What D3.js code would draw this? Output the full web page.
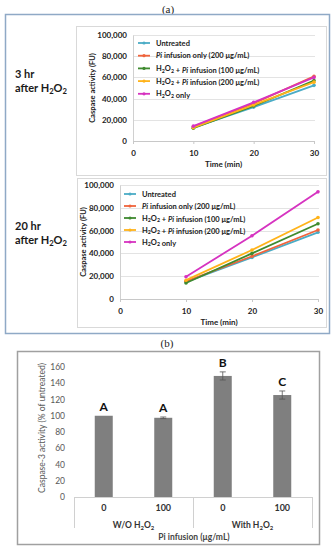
<!DOCTYPE html>
<html><head><meta charset="utf-8">
<script src="https://cdn.jsdelivr.net/npm/d3@7"></script>
<style>body{margin:0;background:#fff}svg{display:block}</style>
</head><body>
<svg id="c" width="336" height="550"></svg>
<script>
// ---- Data ----
const times = [10, 20, 30];
const seriesNames = ["Untreated", "Pi infusion only (200 μg/mL)", "H2O2 + Pi infusion (100 μg/mL)", "H2O2 + Pi infusion (200 μg/mL)", "H2O2 only"];
const seriesColors = ["#4bacc6", "#f0643c", "#3f8a2f", "#ffb31a", "#d633c0"];
// 3 hr after H2O2
const untreated3 = [12500, 32000, 52500];
const piOnly3 = [13500, 35500, 61000];
const h2o2Pi100_3 = [12000, 33000, 57000];
const h2o2Pi200_3 = [12500, 34000, 55500];
const h2o2Only3 = [14000, 36500, 60000];
// 20 hr after H2O2
const untreated20 = [15000, 36500, 58500];
const piOnly20 = [15500, 37500, 60500];
const h2o2Pi100_20 = [14000, 40000, 66000];
const h2o2Pi200_20 = [16500, 43000, 71500];
const h2o2Only20 = [19500, 55500, 94000];
const yTicksLine = [0, 20000, 40000, 60000, 80000, 100000];
const xTicksLine = [0, 10, 20, 30];
// (b) bars
const barCats = ["0", "100", "0", "100"];
const barGroups = ["W/O H2O2", "With H2O2"];
const barValues = [100, 97.5, 149, 125.5];
const barErrors = [0, 1, 5, 5];
const barLetters = ["A", "A", "B", "C"];
const yTicksBar = [0, 20, 40, 60, 80, 100, 120, 140, 160];

const svg = d3.select("#c");
const F = "Lato, 'Open Sans', sans-serif";

// helper: text with H2O2 subscripts and italic Pi
function richText(sel, str, size) {
  const parts = str.split(/(H2O2|Pi(?= infusion))/);
  parts.forEach(p => {
    if (p === "H2O2") {
      sel.append("tspan").text("H");
      sel.append("tspan").attr("font-size", size * 0.7).attr("dy", size * 0.2).text("2");
      sel.append("tspan").attr("dy", -size * 0.2).text("O");
      sel.append("tspan").attr("font-size", size * 0.7).attr("dy", size * 0.2).text("2");
      sel.append("tspan").attr("dy", -size * 0.2).text("");
    } else if (p === "Pi") {
      sel.append("tspan").attr("font-style", "italic").text("Pi");
    } else if (p.length) {
      sel.append("tspan").text(p);
    }
  });
}

// ---- (a) ----
svg.append("text").attr("x", 168).attr("y", 13).attr("text-anchor", "middle")
  .attr("font-family", "'Liberation Serif', serif").attr("font-size", 11).attr("fill", "#222").text("(a)");
svg.append("rect").attr("x", 5.5).attr("y", 14.5).attr("width", 324).attr("height", 319)
  .attr("fill", "none").attr("stroke", "#8fa9c6").attr("stroke-width", 1.5);

const panels = [
  { data: [untreated3, piOnly3, h2o2Pi100_3, h2o2Pi200_3, h2o2Only3], frame: [76, 26, 326, 175],
    xr: [133, 314], yr: [141, 35], legX: 138, legY: 43, legDy: 12.7, side: ["3 hr", 74, 88], titleX: 92 },
  { data: [untreated20, piOnly20, h2o2Pi100_20, h2o2Pi200_20, h2o2Only20], frame: [77, 178, 326, 327],
    xr: [120, 318], yr: [299, 185], legX: 124, legY: 194, legDy: 12, side: ["20 hr", 226, 240], titleX: 83 }
];

panels.forEach(p => {
  const g = svg.append("g");
  g.append("rect").attr("x", p.frame[0] + 0.5).attr("y", p.frame[1] + 0.5)
    .attr("width", p.frame[2] - p.frame[0]).attr("height", p.frame[3] - p.frame[1])
    .attr("fill", "#fff").attr("stroke", "#d9d9d9");
  const x = d3.scaleLinear().domain([0, 30]).range(p.xr);
  const y = d3.scaleLinear().domain([0, 100000]).range(p.yr);
  // gridlines
  g.append("g").selectAll("line").data(yTicksLine.slice(1)).join("line")
    .attr("x1", p.xr[0]).attr("x2", p.xr[1] + 1)
    .attr("y1", d => Math.round(y(d)) + 0.5).attr("y2", d => Math.round(y(d)) + 0.5)
    .attr("stroke", "#e3e3e3");
  // y axis
  const ya = g.append("g").attr("transform", `translate(${p.xr[0]},0)`)
    .call(d3.axisLeft(y).tickValues(yTicksLine).tickFormat(d3.format(",")).tickSize(0).tickPadding(6));
  ya.select(".domain").attr("stroke", "#d0d0d0");
  ya.selectAll("text").attr("font-family", F).attr("font-weight", "bold").attr("font-size", 8).attr("fill", "#222");
  // x axis
  const xa = g.append("g").attr("transform", `translate(0,${p.yr[0]})`)
    .call(d3.axisBottom(x).tickValues(xTicksLine).tickSize(3).tickPadding(6));
  xa.select(".domain").attr("stroke", "#c8c8c8");
  xa.selectAll("line").attr("stroke", "#c8c8c8");
  xa.selectAll("text").attr("font-family", F).attr("font-weight", "bold").attr("font-size", 8).attr("fill", "#222");
  g.append("text").attr("x", (p.xr[0] + p.xr[1]) / 2).attr("y", p.yr[0] + 26).attr("text-anchor", "middle")
    .attr("font-family", F).attr("font-weight", "bold").attr("font-size", 8).attr("fill", "#222").text("Time (min)");
  g.append("text").attr("transform", `translate(${p.titleX},${(p.yr[0] + p.yr[1]) / 2}) rotate(-90)`)
    .attr("text-anchor", "middle").attr("dy", "0.35em")
    .attr("font-family", F).attr("font-weight", "bold").attr("font-size", 7.5).attr("fill", "#222")
    .text("Caspase activity (FU)");
  // lines
  const line = d3.line().x((d, i) => x(times[i])).y(d => y(d));
  p.data.forEach((s, k) => {
    g.append("path").datum(s).attr("d", line).attr("fill", "none")
      .attr("stroke", seriesColors[k]).attr("stroke-width", 1.8);
    g.append("g").selectAll("circle").data(s).join("circle")
      .attr("cx", (d, i) => x(times[i])).attr("cy", d => y(d)).attr("r", 1.8).attr("fill", seriesColors[k]);
  });
  // legend
  seriesNames.forEach((n, k) => {
    const ly = p.legY + k * p.legDy;
    g.append("line").attr("x1", p.legX).attr("x2", p.legX + 12).attr("y1", ly).attr("y2", ly)
      .attr("stroke", seriesColors[k]).attr("stroke-width", 1.8);
    g.append("circle").attr("cx", p.legX + 6).attr("cy", ly).attr("r", 1.6).attr("fill", seriesColors[k]);
    const t = g.append("text").attr("x", p.legX + 18).attr("y", ly).attr("dy", "0.35em")
      .attr("font-family", F).attr("font-weight", "bold").attr("font-size", 7.5).attr("fill", "#222");
    richText(t, n, 7.5);
  });
  // side label
  svg.append("text").attr("x", 15).attr("y", p.side[1]).attr("dy", "0.35em")
    .attr("font-family", F).attr("font-weight", "bold").attr("font-size", 11).attr("fill", "#1a1a1a").text(p.side[0]);
  const t2 = svg.append("text").attr("x", 15).attr("y", p.side[2]).attr("dy", "0.35em")
    .attr("font-family", F).attr("font-weight", "bold").attr("font-size", 11).attr("fill", "#1a1a1a");
  t2.append("tspan").text("after ");
  richText(t2, "H2O2", 11);
});

// ---- (b) ----
svg.append("text").attr("x", 167).attr("y", 347).attr("text-anchor", "middle")
  .attr("font-family", "'Liberation Serif', serif").attr("font-size", 11).attr("fill", "#222").text("(b)");
svg.append("rect").attr("x", 17.5).attr("y", 351.5).attr("width", 302).attr("height", 193)
  .attr("fill", "none").attr("stroke", "#a0a0a0").attr("stroke-width", 1.5);

const bx = d3.scaleBand().domain(d3.range(barCats.length)).range([74, 312]);
const by = d3.scaleLinear().domain([0, 160]).range([497, 367]);
const bw = 18;
const gb = svg.append("g");
const yab = gb.append("g").attr("transform", "translate(70,0)")
  .call(d3.axisLeft(by).tickValues(yTicksBar).tickSize(0).tickPadding(5));
yab.select(".domain").remove();
yab.selectAll("text").attr("font-family", F).attr("font-size", 8.5).attr("fill", "#595959");
gb.append("text").attr("transform", "translate(42,428) rotate(-90)").attr("text-anchor", "middle").attr("dy", "0.35em")
  .attr("font-family", F).attr("font-size", 8.5).attr("fill", "#595959").text("Caspase-3 activity (% of untreated)");

gb.selectAll("rect.bar").data(barValues).join("rect").attr("class", "bar")
  .attr("x", (d, i) => bx(i) + bx.bandwidth() / 2 - bw / 2).attr("width", bw)
  .attr("y", d => by(d)).attr("height", d => by(0) - by(d)).attr("fill", "#7f7f7f");
// error bars
barValues.forEach((v, i) => {
  if (!barErrors[i]) return;
  const cx = bx(i) + bx.bandwidth() / 2;
  gb.append("line").attr("x1", cx).attr("x2", cx).attr("y1", by(v + barErrors[i])).attr("y2", by(v - barErrors[i]))
    .attr("stroke", "#555").attr("stroke-width", 0.8);
  [v + barErrors[i], v - barErrors[i]].forEach(e => {
    gb.append("line").attr("x1", cx - 3).attr("x2", cx + 3).attr("y1", by(e)).attr("y2", by(e))
      .attr("stroke", "#555").attr("stroke-width", 0.8);
  });
});
// letters
barLetters.forEach((l, i) => {
  gb.append("text").attr("x", bx(i) + bx.bandwidth() / 2).attr("y", by(barValues[i] + barErrors[i]) - 5)
    .attr("text-anchor", "middle").attr("font-family", F).attr("font-weight", "bold").attr("font-size", 12)
    .attr("fill", "#111").text(l);
});
// axis line and separators
gb.append("line").attr("x1", 74).attr("x2", 312).attr("y1", 497.5).attr("y2", 497.5).attr("stroke", "#d0d0d0");
[0, 2, 4].forEach(k => {
  const xx = k < 4 ? bx(k) : bx.range()[1];
  gb.append("line").attr("x1", xx + 0.5).attr("x2", xx + 0.5).attr("y1", 497).attr("y2", 528).attr("stroke", "#d0d0d0");
});
barCats.forEach((c, i) => {
  gb.append("text").attr("x", bx(i) + bx.bandwidth() / 2).attr("y", 508).attr("dy", "0.35em").attr("text-anchor", "middle")
    .attr("font-family", F).attr("font-weight", "bold").attr("font-size", 9).attr("fill", "#333").text(c);
});
barGroups.forEach((gname, j) => {
  const cx = (bx(j * 2) + bx(j * 2 + 1) + bx.bandwidth()) / 2;
  const t = gb.append("text").attr("x", cx).attr("y", 525).attr("dy", "0.35em").attr("text-anchor", "middle")
    .attr("font-family", F).attr("font-weight", "bold").attr("font-size", 8.5).attr("fill", "#333");
  richText(t, gname, 8.5);
});
gb.append("text").attr("x", 194).attr("y", 537).attr("dy", "0.35em").attr("text-anchor", "middle")
  .attr("font-family", F).attr("font-weight", "bold").attr("font-size", 8.5).attr("fill", "#444").text("Pi infusion (μg/mL)");
</script>
</body></html>
